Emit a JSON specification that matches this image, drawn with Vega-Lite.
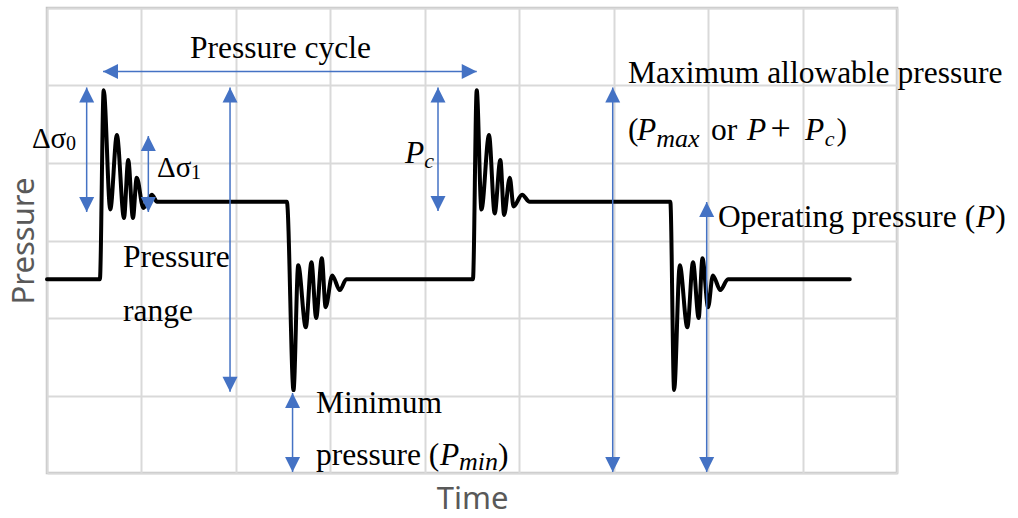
{
  "$schema": "https://vega.github.io/schema/vega-lite/v6.json",
  "width": 850,
  "height": 465,
  "autosize": {"type": "none"},
  "padding": {"left": 47, "top": 8, "right": 121, "bottom": 45},
  "background": "white",
  "config": {
    "view": {"stroke": "#c3c3c3", "strokeWidth": 2.5},
    "axis": {
      "grid": true, "labels": false, "ticks": false, "domain": false,
      "gridColor": "#d9d9d9", "gridWidth": 2,
      "titleFont": "Noto Sans", "titleFontSize": 31, "titleFontWeight": "normal", "titleColor": "#595959"
    }
  },
  "datasets": {
    "curve": [
      {"x": 0, "y": 2.5}, {"x": 0.56, "y": 2.5}, {"x": 0.6, "y": 4.94}, {"x": 0.67, "y": 3.4},
      {"x": 0.74, "y": 4.36}, {"x": 0.815, "y": 3.29}, {"x": 0.86, "y": 4.04}, {"x": 0.91, "y": 3.29},
      {"x": 0.95, "y": 3.81}, {"x": 1.02, "y": 3.42}, {"x": 1.11, "y": 3.59}, {"x": 1.165, "y": 3.5},
      {"x": 2.54, "y": 3.5}, {"x": 2.61, "y": 1.07}, {"x": 2.66, "y": 2.68}, {"x": 2.74, "y": 1.88},
      {"x": 2.8, "y": 2.72}, {"x": 2.85, "y": 2.0}, {"x": 2.91, "y": 2.77}, {"x": 2.95, "y": 2.14},
      {"x": 3.02, "y": 2.55}, {"x": 3.1, "y": 2.36}, {"x": 3.17, "y": 2.5},
      {"x": 4.51, "y": 2.5}, {"x": 4.55, "y": 4.94}, {"x": 4.6, "y": 3.4}, {"x": 4.68, "y": 4.36},
      {"x": 4.74, "y": 3.35}, {"x": 4.8, "y": 4.04}, {"x": 4.84, "y": 3.33}, {"x": 4.9, "y": 3.81},
      {"x": 4.94, "y": 3.44}, {"x": 5.03, "y": 3.59}, {"x": 5.11, "y": 3.5},
      {"x": 6.6, "y": 3.5}, {"x": 6.64, "y": 1.07}, {"x": 6.7, "y": 2.68}, {"x": 6.78, "y": 1.88},
      {"x": 6.84, "y": 2.72}, {"x": 6.9, "y": 2.0}, {"x": 6.94, "y": 2.77}, {"x": 7.0, "y": 2.14},
      {"x": 7.05, "y": 2.55}, {"x": 7.13, "y": 2.36}, {"x": 7.21, "y": 2.5}, {"x": 8.5, "y": 2.5}
    ],
    "arrows": [
      {"x": 0.593, "x2": 4.55, "y": 5.18, "y2": 5.18},
      {"x": 0.42, "x2": 0.42, "y": 4.974, "y2": 3.368},
      {"x": 1.073, "x2": 1.073, "y": 4.348, "y2": 3.368},
      {"x": 1.938, "x2": 1.938, "y": 4.974, "y2": 1.049},
      {"x": 4.14, "x2": 4.14, "y": 4.974, "y2": 3.381},
      {"x": 5.99, "x2": 5.99, "y": 4.974, "y2": 0.013},
      {"x": 6.985, "x2": 6.985, "y": 3.497, "y2": 0.013},
      {"x": 2.6, "x2": 2.6, "y": 1.032, "y2": 0.013}
    ],
    "heads": [
      {"x": 0.593, "y": 5.18, "dir": "left"}, {"x": 4.55, "y": 5.18, "dir": "right"},
      {"x": 0.42, "y": 4.974, "dir": "up"}, {"x": 0.42, "y": 3.368, "dir": "down"},
      {"x": 1.073, "y": 4.348, "dir": "up"}, {"x": 1.073, "y": 3.368, "dir": "down"},
      {"x": 1.938, "y": 4.974, "dir": "up"}, {"x": 1.938, "y": 1.049, "dir": "down"},
      {"x": 4.14, "y": 4.974, "dir": "up"}, {"x": 4.14, "y": 3.381, "dir": "down"},
      {"x": 5.99, "y": 4.974, "dir": "up"}, {"x": 5.99, "y": 0.013, "dir": "down"},
      {"x": 6.985, "y": 3.497, "dir": "up"}, {"x": 6.985, "y": 0.013, "dir": "down"},
      {"x": 2.6, "y": 1.032, "dir": "up"}, {"x": 2.6, "y": 0.013, "dir": "down"}
    ],
    "texts": [
      {"x": 1.514, "y": 5.355, "t": "Pressure cycle", "s": 31.5},
      {"x": -0.16, "y": 4.194, "t": "Δσ", "s": 29},
      {"x": 0.2, "y": 4.168, "t": "0", "s": 20},
      {"x": 1.165, "y": 3.819, "t": "Δσ", "s": 29},
      {"x": 1.525, "y": 3.794, "t": "1", "s": 20},
      {"x": 0.805, "y": 2.658, "t": "Pressure", "s": 31.5},
      {"x": 0.805, "y": 1.961, "t": "range", "s": 31.5},
      {"x": 6.152, "y": 5.032, "t": "Maximum allowable pressure", "s": 31.5},
      {"x": 6.152, "y": 4.297, "t": "(", "s": 31.5},
      {"x": 7.03, "y": 4.297, "t": "or", "s": 31.5},
      {"x": 7.66, "y": 4.297, "t": "+", "s": 36},
      {"x": 8.36, "y": 4.297, "t": ")", "s": 31.5},
      {"x": 7.105, "y": 3.174, "t": "Operating pressure (", "s": 31.5},
      {"x": 10.04, "y": 3.174, "t": ")", "s": 31.5},
      {"x": 2.848, "y": 0.774, "t": "Minimum", "s": 31.5},
      {"x": 2.848, "y": 0.1, "t": "pressure (", "s": 31.5},
      {"x": 4.776, "y": 0.1, "t": ")", "s": 31.5}
    ],
    "italics": [
      {"x": 3.791, "y": 4.0, "t": "P", "s": 31.5},
      {"x": 3.995, "y": 3.935, "t": "c", "s": 22},
      {"x": 6.247, "y": 4.297, "t": "P", "s": 31.5},
      {"x": 6.45, "y": 4.206, "t": "max", "s": 26},
      {"x": 7.412, "y": 4.297, "t": "P", "s": 31.5},
      {"x": 8.026, "y": 4.297, "t": "P", "s": 31.5},
      {"x": 8.236, "y": 4.219, "t": "c", "s": 22},
      {"x": 9.836, "y": 3.174, "t": "P", "s": 31.5},
      {"x": 4.161, "y": 0.1, "t": "P", "s": 31.5},
      {"x": 4.362, "y": 0.04, "t": "min", "s": 26}
    ]
  },
  "encoding": {
    "x": {"field": "x", "type": "quantitative", "scale": {"domain": [0, 9], "nice": false, "zero": false},
          "axis": {"values": [0, 1, 2, 3, 4, 5, 6, 7, 8, 9], "title": "Time", "titlePadding": 11}},
    "y": {"field": "y", "type": "quantitative", "scale": {"domain": [0, 6], "nice": false, "zero": false},
          "axis": {"values": [0, 1, 2, 3, 4, 5, 6], "title": "Pressure", "titlePadding": 7}}
  },
  "layer": [
    {
      "data": {"name": "curve"},
      "mark": {"type": "line", "color": "black", "strokeWidth": 4, "interpolate": "monotone", "strokeJoin": "round", "strokeCap": "round"}
    },
    {
      "data": {"name": "arrows"},
      "mark": {"type": "rule", "color": "#4472C4", "strokeWidth": 1.5},
      "encoding": {"x2": {"field": "x2"}, "y2": {"field": "y2"}}
    },
    {
      "data": {"name": "heads"},
      "mark": {"type": "point", "filled": true, "color": "#4472C4", "opacity": 1, "strokeWidth": 0},
      "encoding": {
        "shape": {"field": "dir", "type": "nominal", "legend": null,
                  "scale": {"domain": ["up", "down", "left", "right"],
                            "range": ["M0,0L1,2L-1,2Z", "M0,0L1,-2L-1,-2Z", "M0,0L2,-1L2,1Z", "M0,0L-2,-1L-2,1Z"]}},
        "size": {"value": 225}
      }
    },
    {
      "data": {"name": "texts"},
      "mark": {"type": "text", "font": "Liberation Serif", "align": "left", "baseline": "alphabetic", "color": "black"},
      "encoding": {"text": {"field": "t"}, "size": {"field": "s", "type": "quantitative", "scale": null}}
    },
    {
      "data": {"name": "italics"},
      "mark": {"type": "text", "font": "Liberation Serif", "fontStyle": "italic", "align": "left", "baseline": "alphabetic", "color": "black"},
      "encoding": {"text": {"field": "t"}, "size": {"field": "s", "type": "quantitative", "scale": null}}
    }
  ]
}
